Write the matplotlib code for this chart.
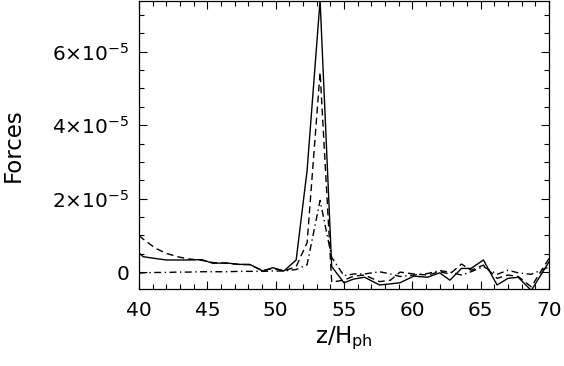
import numpy as np
import matplotlib
matplotlib.use("Agg")
import matplotlib.pyplot as plt

# height in scale heights
z = [40.0, 40.3, 41.2, 42.0, 42.8, 43.6, 44.6, 45.4, 46.4, 47.3, 48.1, 49.05,
     49.8, 50.6, 51.5, 52.3, 53.25, 54.1, 55.0, 55.7, 56.5, 57.6, 58.4, 59.1,
     60.1, 61.1, 62.0, 62.75, 63.6, 64.3, 65.2, 66.2, 67.0, 67.75, 68.7, 70.0]

# forces, in units of 1e-5
force_solid = [0.52, 0.42, 0.37, 0.33, 0.33, 0.33, 0.34, 0.24, 0.25, 0.21, 0.21, 0.03,
               0.12, 0.03, 0.33, 2.77, 7.40, 0.15, -0.29, -0.19, -0.14, -0.35, -0.32, -0.29,
               -0.11, -0.14, -0.02, -0.22, 0.10, 0.10, 0.33, -0.35, -0.17, -0.14, -0.50, 0.28]

force_dashed = [1.00, 0.90, 0.65, 0.51, 0.42, 0.36, 0.32, 0.26, 0.24, 0.21, 0.20, 0.04,
                0.10, 0.03, 0.15, 0.80, 5.44, -0.27, -0.22, -0.11, -0.08, -0.26, -0.22, 0.00,
                -0.05, -0.08, 0.01, -0.05, 0.22, 0.05, 0.19, -0.17, -0.08, -0.12, -0.40, 0.37]

force_dashdot = [-0.03, -0.02, -0.01, -0.01, 0.00, 0.00, 0.01, 0.01, 0.01, 0.02, 0.02, 0.02,
                 0.03, 0.03, 0.07, 0.20, 1.95, 0.40, -0.10, -0.05, -0.05, 0.01, -0.05, -0.12,
                 -0.08, -0.04, 0.04, 0.00, -0.08, 0.01, 0.15, -0.06, 0.05, -0.02, -0.06, 0.14]

yticks = [0, 2e-5, 4e-5, 6e-5]
yticklabels = ['0', r'2$\times$10$^{-5}$', r'4$\times$10$^{-5}$', r'6$\times$10$^{-5}$']

scale = 1e-5

fig = plt.figure(figsize=(5.64, 3.66), dpi=100)
ax = fig.add_axes([139/564, 77/366, 410/564, 288/366])

ax.plot(z, np.array(force_solid)*scale, color='k', lw=1.0)
ax.plot(z, np.array(force_dashed)*scale, color='k', lw=1.0, dashes=[5, 3])
ax.plot(z, np.array(force_dashdot)*scale, color='k', lw=1.0, dashes=[5, 2.5, 1, 2.5])

ax.set_xlim(40, 70)
ax.set_ylim(-0.46e-5, 7.38e-5)

ax.set_xticks([40, 45, 50, 55, 60, 65, 70])
ax.set_xticks(np.arange(40, 71, 1), minor=True)
ax.set_yticks(yticks)
ax.set_yticklabels(yticklabels)
ax.set_yticks(np.arange(-0.0e-5, 7.4e-5, 0.5e-5), minor=True)

ax.tick_params(which='both', direction='in', top=True, right=True, width=0.8,
               labelsize=14.5)
ax.tick_params(axis='x', which='major', pad=9)
ax.tick_params(axis='y', which='major', pad=7)
ax.tick_params(which='major', length=6)
ax.tick_params(which='minor', length=3.5)

for s in ax.spines.values():
    s.set_linewidth(0.9)

ax.set_xlabel(r'z/H$_{\rm ph}$', fontsize=16.5, labelpad=3)
ax.set_ylabel('Forces', fontsize=16.5, labelpad=20)

fig.savefig('out.png', dpi=100)
